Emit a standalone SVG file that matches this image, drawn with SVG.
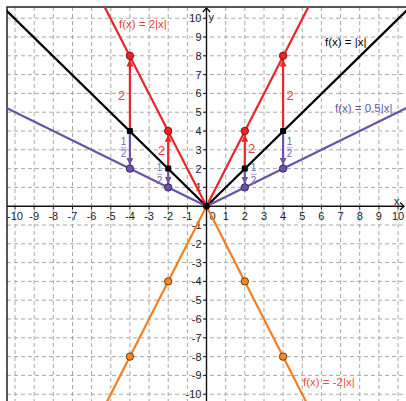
<svg xmlns="http://www.w3.org/2000/svg" width="406" height="401" viewBox="0 0 406 401">
<style>
.grid{stroke:#a8a8a8;stroke-width:1;stroke-dasharray:4 3;fill:none}
.axis{stroke:#111;stroke-width:1.4;fill:none}
.tick{stroke:#111;stroke-width:1}
.num{font-family:"Liberation Sans",Arial,sans-serif;font-size:11px;fill:#222}
.xn{text-anchor:middle}
.yn{text-anchor:end}
.fn{fill:none;stroke-width:2.2;stroke-linecap:round;stroke-linejoin:round}
.lbl{font-family:"Liberation Sans",Arial,sans-serif;font-size:11.5px}
.big{font-family:"Liberation Sans",Arial,sans-serif;font-size:13px;fill:#e8403a;text-anchor:middle}
.frac{font-family:"Liberation Sans",Arial,sans-serif;font-size:10px;fill:#7a66b6;text-anchor:middle}
.fbar{stroke:#9a8cc8;stroke-width:0.8}
.ra{stroke:#e8262a;stroke-width:2.2;marker-end:url(#ahR)}
.pa{stroke:#6b53a8;stroke-width:2.2;marker-end:url(#ahP)}
.pr{fill:#e8262a;stroke:#8a1010;stroke-width:1}
.pp{fill:#6b53a8;stroke:#33255e;stroke-width:1}
.po{fill:#f58a23;stroke:#6a3a10;stroke-width:1}
.pb{fill:#000}
</style>
<defs>
<clipPath id="plot"><rect x="7" y="7" width="399" height="394"/></clipPath>
<marker id="ahR" markerUnits="userSpaceOnUse" markerWidth="8" markerHeight="8" refX="7" refY="3.5" orient="auto"><path d="M0,0 L7,3.5 L0,7 z" fill="#e8262a"/></marker>
<marker id="ahP" markerUnits="userSpaceOnUse" markerWidth="8" markerHeight="8" refX="7" refY="3.5" orient="auto"><path d="M0,0 L7,3.5 L0,7 z" fill="#6b53a8"/></marker>
</defs>
<rect width="406" height="401" fill="#fff"/>
<g id="grid" clip-path="url(#plot)">
<path class="grid" d="M15,7V401 M34.2,7V401 M53.3,7V401 M72.5,7V401 M91.6,7V401 M110.8,7V401 M129.9,7V401 M149.1,7V401 M168.2,7V401 M187.4,7V401 M225.7,7V401 M244.8,7V401 M264,7V401 M283.1,7V401 M302.3,7V401 M321.4,7V401 M340.6,7V401 M359.7,7V401 M378.9,7V401 M398,7V401"/>
<path class="grid" d="M7,18.2H406 M7,37H406 M7,55.8H406 M7,74.6H406 M7,93.4H406 M7,112.2H406 M7,131H406 M7,149.8H406 M7,168.6H406 M7,187.4H406 M7,225H406 M7,243.8H406 M7,262.6H406 M7,281.4H406 M7,300.2H406 M7,319H406 M7,337.8H406 M7,356.6H406 M7,375.4H406 M7,394.2H406"/>
</g>
<g id="frame">
<path d="M7,401V7H406" fill="none" stroke="#222" stroke-width="1.5"/>
</g>
<g id="axes">
<path class="axis" d="M7,206.2H404 M206.5,401V8"/>
<path class="axis" d="M400,202.5L404,206.2L400,209.9 M202.8,12L206.5,8L210.2,12"/>
<path class="tick" d="M15,206.2v3.3 M34.2,206.2v3.3 M53.3,206.2v3.3 M72.5,206.2v3.3 M91.6,206.2v3.3 M110.8,206.2v3.3 M129.9,206.2v3.3 M149.1,206.2v3.3 M168.2,206.2v3.3 M187.4,206.2v3.3 M225.7,206.2v3.3 M244.8,206.2v3.3 M264,206.2v3.3 M283.1,206.2v3.3 M302.3,206.2v3.3 M321.4,206.2v3.3 M340.6,206.2v3.3 M359.7,206.2v3.3 M378.9,206.2v3.3 M398,206.2v3.3"/>
<path class="tick" d="M206.5,18.2h-3.3 M206.5,37h-3.3 M206.5,55.8h-3.3 M206.5,74.6h-3.3 M206.5,93.4h-3.3 M206.5,112.2h-3.3 M206.5,131h-3.3 M206.5,149.8h-3.3 M206.5,168.6h-3.3 M206.5,187.4h-3.3 M206.5,225h-3.3 M206.5,243.8h-3.3 M206.5,262.6h-3.3 M206.5,281.4h-3.3 M206.5,300.2h-3.3 M206.5,319h-3.3 M206.5,337.8h-3.3 M206.5,356.6h-3.3 M206.5,375.4h-3.3 M206.5,394.2h-3.3"/>
<text class="num" x="394" y="204.5">x</text>
<text class="num" x="208.5" y="21">y</text>
<g class="num xn">
<text x="15" y="220">-10</text><text x="34.2" y="220">-9</text><text x="53.3" y="220">-8</text><text x="72.5" y="220">-7</text><text x="91.6" y="220">-6</text><text x="110.8" y="220">-5</text><text x="129.9" y="220">-4</text><text x="149.1" y="220">-3</text><text x="168.2" y="220">-2</text><text x="187.4" y="220">-1</text>
<text x="212.5" y="220">0</text>
<text x="225.7" y="220">1</text><text x="244.8" y="220">2</text><text x="264" y="220">3</text><text x="283.1" y="220">4</text><text x="302.3" y="220">5</text><text x="321.4" y="220">6</text><text x="340.6" y="220">7</text><text x="359.7" y="220">8</text><text x="378.9" y="220">9</text><text x="398" y="220">10</text>
</g>
<g class="num yn">
<text x="201.5" y="22.2">10</text><text x="201.5" y="41">9</text><text x="201.5" y="59.8">8</text><text x="201.5" y="78.6">7</text><text x="201.5" y="97.4">6</text><text x="201.5" y="116.2">5</text><text x="201.5" y="135">4</text><text x="201.5" y="153.8">3</text><text x="201.5" y="172.6">2</text><text x="201.5" y="191.4">1</text>
<text x="201.5" y="229">-1</text><text x="201.5" y="247.8">-2</text><text x="201.5" y="266.6">-3</text><text x="201.5" y="285.4">-4</text><text x="201.5" y="304.2">-5</text><text x="201.5" y="323">-6</text><text x="201.5" y="341.8">-7</text><text x="201.5" y="360.6">-8</text><text x="201.5" y="379.4">-9</text><text x="201.5" y="398.2">-10</text>
</g>
</g>
<g id="f-abs" clip-path="url(#plot)"><path class="fn" stroke="#000" d="M-4.15,0.2L206.5,206.2L417.15,0.2"/></g>
<g id="f-half" clip-path="url(#plot)"><path class="fn" stroke="#6b53a8" d="M-4.15,102.8L206.5,206.2L417.15,102.8"/></g>
<g id="f-double" clip-path="url(#plot)"><path class="fn" stroke="#e8262a" d="M101.2,0.2L206.5,206.2L311.8,0.2"/></g>
<g id="f-neg" clip-path="url(#plot)"><path class="fn" stroke="#f57f1f" d="M101.2,413L206.5,206.2L311.8,413"/></g>
<g id="connectors">
<line class="ra" x1="129.9" y1="131" x2="129.9" y2="59.5"/>
<line class="ra" x1="168.2" y1="168.6" x2="168.2" y2="134.7"/>
<line class="ra" x1="244.8" y1="168.6" x2="244.8" y2="134.7"/>
<line class="ra" x1="283.1" y1="131" x2="283.1" y2="59.5"/>
<line class="pa" x1="129.9" y1="131" x2="129.9" y2="164.9"/>
<line class="pa" x1="168.2" y1="168.6" x2="168.2" y2="183.7"/>
<line class="pa" x1="244.8" y1="168.6" x2="244.8" y2="183.7"/>
<line class="pa" x1="283.1" y1="131" x2="283.1" y2="164.9"/>
</g>
<g id="p-red-m4"><circle class="pr" cx="129.9" cy="55.8" r="3.7"/></g>
<g id="p-red-m2"><circle class="pr" cx="168.2" cy="131" r="3.7"/></g>
<g id="p-red-2"><circle class="pr" cx="244.8" cy="131" r="3.7"/></g>
<g id="p-red-4"><circle class="pr" cx="283.1" cy="55.8" r="3.7"/></g>
<g id="p-blk-m4"><rect class="pb" x="126.9" y="128" width="6" height="6" rx="1"/></g>
<g id="p-blk-m2"><rect class="pb" x="165.2" y="165.6" width="6" height="6" rx="1"/></g>
<g id="p-blk-2"><rect class="pb" x="241.8" y="165.6" width="6" height="6" rx="1"/></g>
<g id="p-blk-4"><rect class="pb" x="280.1" y="128" width="6" height="6" rx="1"/></g>
<g id="p-origin"><circle class="pb" cx="206.5" cy="206.2" r="3.4"/></g>
<g id="p-pur-m4"><circle class="pp" cx="129.9" cy="168.6" r="3.7"/></g>
<g id="p-pur-m2"><circle class="pp" cx="168.2" cy="187.4" r="3.7"/></g>
<g id="p-pur-2"><circle class="pp" cx="244.8" cy="187.4" r="3.7"/></g>
<g id="p-pur-4"><circle class="pp" cx="283.1" cy="168.6" r="3.7"/></g>
<g id="p-org-m4"><circle class="po" cx="129.9" cy="356.6" r="3.7"/></g>
<g id="p-org-m2"><circle class="po" cx="168.2" cy="281.4" r="3.7"/></g>
<g id="p-org-2"><circle class="po" cx="244.8" cy="281.4" r="3.7"/></g>
<g id="p-org-4"><circle class="po" cx="283.1" cy="356.6" r="3.7"/></g>
<g id="labels">
<text class="lbl" x="119" y="28" fill="#e8403a">f(x) = 2|x|</text>
<text class="lbl" x="325" y="46" fill="#000">f(x) = |x|</text>
<text class="lbl" x="335" y="112" fill="#6b53a8">f(x) = 0.5|x|</text>
<text class="lbl" x="303" y="385.5" fill="#f0503f">f(x) = -2|x|</text>
<text class="big" x="121.5" y="99.5">2</text>
<text class="big" x="161.5" y="154.5">2</text>
<text class="big" x="251.5" y="152.5">2</text>
<text class="big" x="290" y="99.5">2</text>
<text class="frac" x="123.5" y="144.5">1</text><line class="fbar" x1="120.5" y1="147.8" x2="126.5" y2="147.8"/><text class="frac" x="123.5" y="157">2</text>
<text class="frac" x="159.5" y="171">1</text><line class="fbar" x1="156.5" y1="174.3" x2="162.5" y2="174.3"/><text class="frac" x="159.5" y="183.5">2</text>
<text class="frac" x="253.5" y="171">1</text><line class="fbar" x1="250.5" y1="174.3" x2="256.5" y2="174.3"/><text class="frac" x="253.5" y="183.5">2</text>
<text class="frac" x="289.5" y="144.5">1</text><line class="fbar" x1="286.5" y1="147.8" x2="292.5" y2="147.8"/><text class="frac" x="289.5" y="157">2</text>
</g>
</svg>
